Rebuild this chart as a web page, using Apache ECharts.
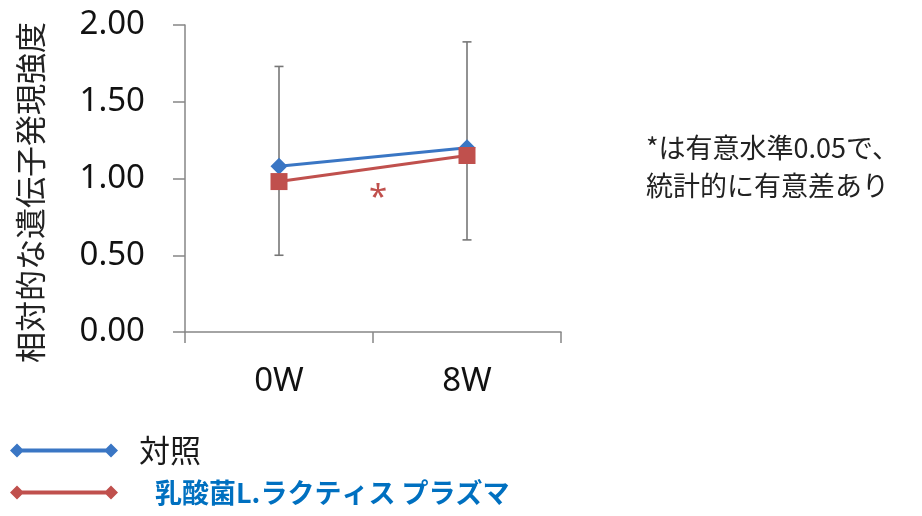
<!DOCTYPE html>
<html>
<head>
<meta charset="utf-8">
<script src="https://cdn.jsdelivr.net/npm/echarts@6/dist/echarts.min.js"></script>
<style>
html,body{margin:0;padding:0;background:#fff;}
#c{width:922px;height:516px;}
</style>
</head>
<body>
<div id="c"></div>
<script>
const categories = ['0W', '8W'];
const controlValues = [1.08, 1.20];
const lactisValues = [0.98, 1.15];
const errorLow = [0.50, 0.60];
const errorHigh = [1.73, 1.89];
const yTicks = [0, 0.5, 1.0, 1.5, 2.0];
const seriesNames = ['対照', '乳酸菌L.ラクティス プラズマ'];
const yAxisTitle = '相対的な遺伝子発現強度';
const noteLines = ['*は有意水準0.05で、', '統計的に有意差あり'];

const LATIN = '"Noto Sans", "Noto Sans CJK JP", sans-serif';
const CJK = '"Noto Sans CJK JP", "Noto Sans", sans-serif';
const BLUE = '#3a76c4';
const RED = '#c0504d';
const AXIS = '#868686';

const chart = echarts.init(document.getElementById('c'));

const errData = categories.map((c, i) => [i, errorLow[i], errorHigh[i]]);

const legendIcon = 'path://M0,7L7,0L14,7L7,14Z M7,5H101V9H7Z M94,7L101,0L108,7L101,14Z';

chart.setOption({
  animation: false,
  backgroundColor: '#fff',
  grid: { left: 185, right: 361, top: 25, bottom: 184 },
  legend: {
    orient: 'vertical',
    left: 10,
    top: 435,
    padding: 0,
    itemWidth: 108,
    itemHeight: 14,
    itemGap: 13,
    selectedMode: false,
    data: [
      { name: seriesNames[0], icon: legendIcon,
        textStyle: { color: '#1a1a1a', fontSize: 31, fontFamily: CJK, padding: [0, 0, 0, 16] } },
      { name: seriesNames[1], icon: legendIcon,
        textStyle: { color: '#0070c0', fontSize: 27, fontWeight: 'bold', fontFamily: CJK, padding: [0, 0, 0, 32] } }
    ]
  },
  xAxis: {
    type: 'category',
    data: categories,
    boundaryGap: true,
    axisLine: { lineStyle: { color: AXIS, width: 1.5 } },
    axisTick: { show: true, length: 11, alignWithLabel: false, lineStyle: { color: AXIS, width: 1.5 } },
    axisLabel: { color: '#111', fontSize: 33, fontFamily: LATIN, margin: 33 }
  },
  yAxis: {
    type: 'value',
    min: yTicks[0],
    max: yTicks[yTicks.length - 1],
    interval: 0.5,
    splitLine: { show: false },
    axisLine: { show: true, lineStyle: { color: AXIS, width: 1.5 } },
    axisTick: { show: true, length: 12, lineStyle: { color: AXIS, width: 1.5 } },
    axisLabel: { color: '#111', fontSize: 33, fontFamily: LATIN, margin: 40,
      formatter: v => v.toFixed(2) }
  },
  graphic: [
    { type: 'text', left: 15, top: 22, rotation: Math.PI / 2,
      style: { text: yAxisTitle, fontSize: 31, fontFamily: CJK, fill: '#222' } },
    { type: 'text', x: 646, y: 134,
      style: { text: noteLines[0], fontSize: 27, fontFamily: CJK, fill: '#222' } },
    { type: 'text', x: 646, y: 172,
      style: { text: noteLines[1], fontSize: 27, fontFamily: CJK, fill: '#222' } },
    { type: 'text', x: 369, y: 182,
      style: { text: '*', fontSize: 33, fontFamily: LATIN, fill: RED } }
  ],
  series: [
    {
      type: 'custom',
      name: 'err',
      z: 1,
      silent: true,
      data: errData,
      renderItem: function (params, api) {
        const x = api.coord([api.value(0), 0])[0];
        const lo = api.coord([api.value(0), api.value(1)])[1];
        const hi = api.coord([api.value(0), api.value(2)])[1];
        const cap = 4.5;
        const st = { stroke: '#777', lineWidth: 1.6 };
        return {
          type: 'group',
          children: [
            { type: 'line', shape: { x1: x, y1: lo, x2: x, y2: hi }, style: st },
            { type: 'line', shape: { x1: x - cap, y1: lo, x2: x + cap, y2: lo }, style: st },
            { type: 'line', shape: { x1: x - cap, y1: hi, x2: x + cap, y2: hi }, style: st }
          ]
        };
      }
    },
    {
      type: 'line',
      name: seriesNames[0],
      data: controlValues,
      z: 3,
      symbol: 'diamond',
      symbolSize: 17,
      color: BLUE,
      lineStyle: { color: BLUE, width: 3 },
      itemStyle: { color: BLUE }
    },
    {
      type: 'line',
      name: seriesNames[1],
      data: lactisValues,
      z: 4,
      symbol: 'rect',
      symbolSize: 17,
      color: RED,
      lineStyle: { color: RED, width: 3 },
      itemStyle: { color: RED }
    }
  ]
});
</script>
</body>
</html>
